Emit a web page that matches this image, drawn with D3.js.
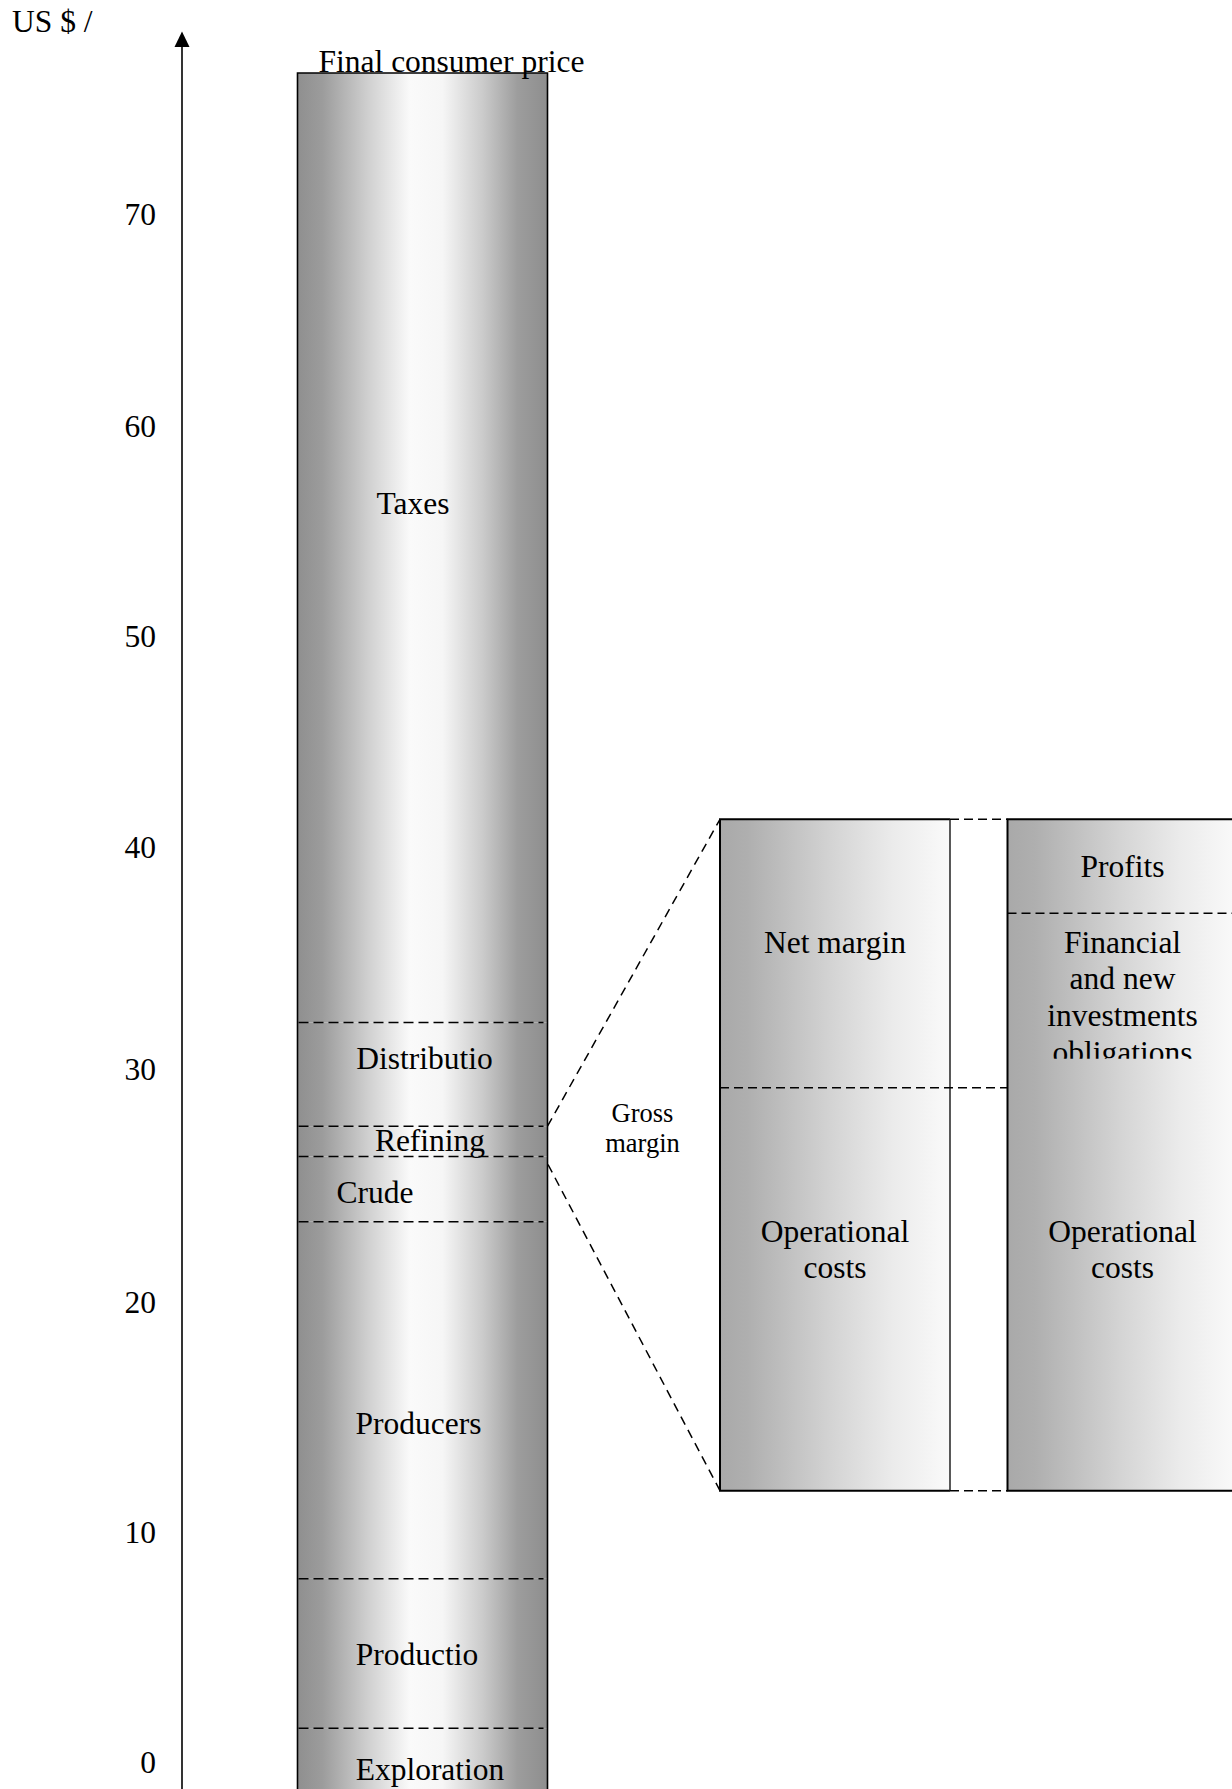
<!DOCTYPE html>
<html><head><meta charset="utf-8">
<script src="https://cdn.jsdelivr.net/npm/d3@7"></script>
<style>html,body{margin:0;padding:0;background:#fff;overflow:hidden}</style>
</head><body><svg id="chart" width="1232" height="1789"></svg>
<script>
// ---------- data ----------
const axisTitle = "US $ /";
const yTickValues = [0, 10, 20, 30, 40, 50, 60, 70];
const columnName = "Final consumer price";
const segmentNames = ["Exploration", "Productio", "Producers", "Crude", "Refining", "Distributio", "Taxes"];
const segmentBounds = [-1.5, 1.5, 8.0, 23.45, 26.25, 27.55, 32.1, 76.7];
const zoomSource = "Refining";
const zoomLabel = ["Gross", "margin"];
const boxNames = ["Gross margin", "Net margin"];
const box1Parts = [["Operational", "costs"], ["Net margin"]];
const box1Shares = [60, 40];
const box2Parts = [["Operational", "costs"], ["Financial", "and new", "investments", "obligations"], ["Profits"]];
const box2Shares = [60, 26, 14];

// ---------- layout ----------
const FONT = "'Liberation Serif','Times New Roman',serif";
const FS = 31.5;
const W = 1232, H = 1789;
const svg = d3.select("#chart");

const y = d3.scaleLinear().domain(yTickValues)
  .range([1762.6, 1532.9, 1302, 1069.2, 847.2, 636.6, 426.6, 214.9]);
const xCol = d3.scaleBand().domain([columnName]).range([297.5, 547.5]);
const xBox = d3.scaleBand().domain(boxNames).range([720, 1237.5]).paddingInner(0.2);
const yShare = d3.scaleLinear().domain([0, 100]).range([1490.7, 819.3]);

// gradients
const defs = svg.append("defs");
const g1 = defs.append("linearGradient").attr("id", "colGrad").attr("x1", 0).attr("x2", 1).attr("y1", 0).attr("y2", 0);
[[0, "#8f8f8f"], [0.1, "#9c9c9c"], [0.28, "#cfcfcf"], [0.45, "#fafafa"], [0.58, "#f6f6f6"], [0.74, "#cbcbcb"], [0.88, "#9d9d9d"], [1, "#8e8e8e"]]
  .forEach(s => g1.append("stop").attr("offset", s[0]).attr("stop-color", s[1]));
const g2 = defs.append("linearGradient").attr("id", "boxGrad").attr("x1", 0).attr("x2", 1).attr("y1", 0).attr("y2", 0);
[[0, "#a9a9a9"], [0.12, "#afafaf"], [0.5, "#d5d5d5"], [0.75, "#ebebeb"], [1, "#fafafa"]]
  .forEach(s => g2.append("stop").attr("offset", s[0]).attr("stop-color", s[1]));

// ---------- axis ----------
svg.append("text").attr("x", 12).attr("y", 32).attr("font-family", FONT).attr("font-size", FS).text(axisTitle);
const axisX = 182;
svg.append("line").attr("x1", axisX).attr("x2", axisX).attr("y1", 44).attr("y2", H + 5)
  .attr("stroke", "#000").attr("stroke-width", 1.6);
svg.append("path").attr("d", `M${axisX},31.5L${axisX - 7.5},47L${axisX + 7.5},47Z`).attr("fill", "#000");
const axisG = svg.append("g").attr("transform", `translate(${axisX},0)`)
  .call(d3.axisLeft(y).tickValues(yTickValues).tickSize(0).tickPadding(26).tickFormat(d3.format("d")));
axisG.select(".domain").remove();
axisG.attr("font-family", FONT).attr("font-size", FS);
axisG.selectAll("text").attr("fill", "#000");

// ---------- main column ----------
const cx0 = xCol(columnName), cw = xCol.bandwidth(), cx1 = cx0 + cw;
const segs = segmentNames.map((n, i) => ({ name: n, lo: segmentBounds[i], hi: segmentBounds[i + 1] }));
svg.append("g").selectAll("rect").data(segs).join("rect")
  .attr("x", cx0).attr("width", cw)
  .attr("y", d => y(d.hi)).attr("height", d => y(d.lo) - y(d.hi))
  .attr("fill", "url(#colGrad)");
svg.append("path")
  .attr("d", `M${cx0},${y(segmentBounds[0]) + 5}V${y(segmentBounds[segmentBounds.length - 1])}H${cx1}V${y(segmentBounds[0]) + 5}`)
  .attr("fill", "none").attr("stroke", "#000").attr("stroke-width", 1.6);
svg.append("g").selectAll("line").data(segmentBounds.slice(1, -1)).join("line")
  .attr("x1", cx0 + 1).attr("x2", cx1 - 4).attr("y1", d => y(d)).attr("y2", d => y(d))
  .attr("stroke", "#000").attr("stroke-width", 1.5).attr("stroke-dasharray", "10,5");

const segLabelOffset = {
  Exploration: [7.5, 17.8], Productio: [-5.5, 12], Producers: [-4, 34], Crude: [-47.5, 14],
  Refining: [7.5, 10], Distributio: [2, -5.6], Taxes: [-9.5, -34]
};
svg.append("g").selectAll("text").data(segs).join("text")
  .attr("x", d => cx0 + cw / 2 + segLabelOffset[d.name][0])
  .attr("y", d => (y(d.lo) + y(d.hi)) / 2 + segLabelOffset[d.name][1])
  .attr("text-anchor", "middle").attr("font-family", FONT).attr("font-size", FS)
  .text(d => d.name);

svg.append("text").attr("x", cx0 + 21).attr("y", y(segmentBounds[segmentBounds.length - 1]) - 1.5)
  .attr("font-family", FONT).attr("font-size", FS).text(columnName);

// ---------- zoom funnel ----------
const src = segs.find(s => s.name === zoomSource);
const bx0 = xBox(boxNames[0]), bw = xBox.bandwidth(), bx1 = bx0 + bw;
const b2x0 = xBox(boxNames[1]), b2x1 = b2x0 + bw;
const dashed = (x1, y1, x2, y2, da) => svg.append("line").attr("x1", x1).attr("y1", y1).attr("x2", x2).attr("y2", y2)
  .attr("stroke", "#000").attr("stroke-width", 1.5).attr("stroke-dasharray", da || "9,6");
dashed(cx1, y(src.hi), bx0, yShare(100));
dashed(cx1 + 0.5, y(src.lo) + 8, bx0, yShare(0));
const zmid = (y(src.lo) + y(src.hi)) / 2;
zoomLabel.forEach((t, i) => svg.append("text")
  .attr("x", (cx1 + bx0) / 2 + 8.75).attr("y", zmid - 19 + i * 29.7)
  .attr("text-anchor", "middle").attr("font-family", FONT).attr("font-size", 26.5).text(t));

// ---------- boxes ----------
function stack(shares, parts) {
  let acc = 0;
  return shares.map((s, i) => { const o = { lo: acc, hi: acc + s, lines: parts[i] }; acc += s; return o; });
}
const box1 = stack(box1Shares, box1Parts);
const box2 = stack(box2Shares, box2Parts);

function drawBox(x0, parts, rightStroke) {
  const g = svg.append("g");
  g.append("rect").attr("x", x0).attr("width", bw).attr("y", yShare(100)).attr("height", yShare(0) - yShare(100))
    .attr("fill", "url(#boxGrad)");
  g.append("path").attr("d", `M${x0 + bw},${yShare(100)}H${x0}V${yShare(0)}H${x0 + bw}`)
    .attr("fill", "none").attr("stroke", "#000").attr("stroke-width", 2);
  if (rightStroke) g.append("line").attr("x1", x0 + bw).attr("x2", x0 + bw).attr("y1", yShare(100)).attr("y2", yShare(0))
    .attr("stroke", "#222").attr("stroke-width", 1.5);
  return g;
}
drawBox(bx0, box1, true);
drawBox(b2x0, box2, true);

// dividers and connectors
dashed(bx0, yShare(box1[0].hi), b2x0, yShare(box1[0].hi), "9,5");
dashed(b2x0, yShare(box2[1].hi), W + 5, yShare(box2[1].hi), "9,5");
dashed(bx1, yShare(100), b2x0, yShare(100), "9,5");
dashed(bx1, yShare(0), b2x0, yShare(0), "9,5");

const firstBaseline = { "Operational": 153.8, "Net margin": 134, "Financial": 39.5, "Profits": 58 };
const LH = 36.7;
function boxText(x0, parts, clipId) {
  parts.forEach((p, i) => {
    const top = yShare(p.hi), bot = yShare(p.lo);
    const g = svg.append("g");
    if (p.lines.length > 2) {
      defs.append("clipPath").attr("id", clipId + i).append("rect")
        .attr("x", x0).attr("width", bw).attr("y", top).attr("height", bot - top - 29);
      g.attr("clip-path", `url(#${clipId + i})`);
    }
    p.lines.forEach((t, j) => g.append("text")
      .attr("x", x0 + bw / 2).attr("y", top + firstBaseline[p.lines[0]] + j * LH)
      .attr("text-anchor", "middle").attr("font-family", FONT).attr("font-size", FS).text(t));
  });
}
boxText(bx0, box1, "c1_");
boxText(b2x0, box2, "c2_");
</script></body></html>
